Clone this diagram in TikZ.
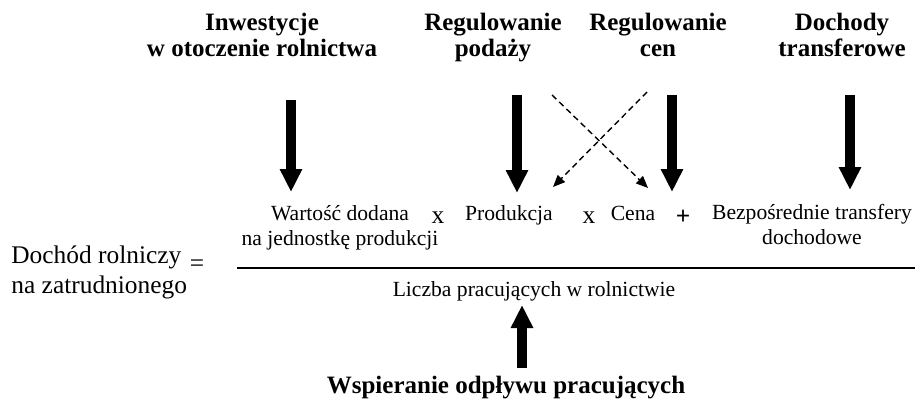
\documentclass[tikz,border=0pt]{standalone}
\usepackage{fontspec}
\setmainfont{Liberation Serif}
\usetikzlibrary{arrows.meta}

\tikzset{
	heading/.style={font=\bfseries\fontsize{12.5}{13}\selectfont, align=center, inner sep=0pt, anchor=base},
	term/.style={font=\fontsize{10.8}{12.2}\selectfont, align=center, inner sep=0pt, anchor=base},
	oper/.style={font=\fontsize{12.7}{15}\selectfont, inner sep=0pt, anchor=base},
	bigarrow/.style={line width=5pt, -{Triangle[width=10.5pt,length=11.5pt]}},
	crossarrow/.style={line width=0.7pt, dash pattern=on 3pt off 2pt, -{Triangle[width=5pt,length=6pt]}}
}

\begin{document}
\begin{tikzpicture}[x=0.5pt,y=-0.5pt]
\useasboundingbox (0,0) rectangle (915,401);

% instruments (base = last line)
\node [heading] (inw) at (262,57) {Inwestycje\\w otoczenie rolnictwa};
\node [heading] (podaz) at (493,57) {Regulowanie\\podaży};
\node [heading] (ceny) at (658,57) {Regulowanie\\cen};
\node [heading] (transf) at (842,57) {Dochody\\transferowe};
\node [heading] (odplyw) at (506,393) {Wspieranie odpływu pracujących};

% the formula
\node [oper, anchor=base west, align=left] (dochod) at (11,293) {Dochód rolniczy\\na zatrudnionego};
\node [oper, anchor=center] (eq) at (197,266) {=};
\node [term] (wartosc) at (340,245) {Wartość dodana\\na jednostkę produkcji};
\node [oper] (x1) at (438,223) {x};
\node [term] (prod) at (509,220) {Produkcja};
\node [oper] (x2) at (589,223) {x};
\node [term] (cena) at (633,220) {Cena};
\node [oper, font=\bfseries\fontsize{12.7}{15}\selectfont] (plus) at (683,224) {+};
\node [term] (bezp) at (812,244) {Bezpośrednie transfery\\dochodowe};
\node [term] (liczba) at (534,296) {Liczba pracujących w rolnictwie};

\coordinate (kl) at (237,268);
\coordinate (kr) at (915,268);
\draw [line width=1pt] (kl) -- (kr);

% thick arrows
\coordinate (a1) at (291,100); \coordinate (a1e) at (291,192);
\coordinate (a2) at (517,95);  \coordinate (a2e) at (517,193);
\coordinate (a3) at (672,95);  \coordinate (a3e) at (672,192);
\coordinate (a4) at (850,95);  \coordinate (a4e) at (850,190);
\coordinate (a5) at (522,368); \coordinate (a5e) at (522,305);

\foreach \n in {a1,a2,a3,a4,a5} {
	\draw [bigarrow] (\n) -- (\n e);
}

% crossing influences
\coordinate (d1) at (647,92);  \coordinate (d1e) at (553,187);
\coordinate (d2) at (552,95);  \coordinate (d2e) at (648,188);
\draw [crossarrow] (d1) -- (d1e);
\draw [crossarrow] (d2) -- (d2e);

\end{tikzpicture}
\end{document}
